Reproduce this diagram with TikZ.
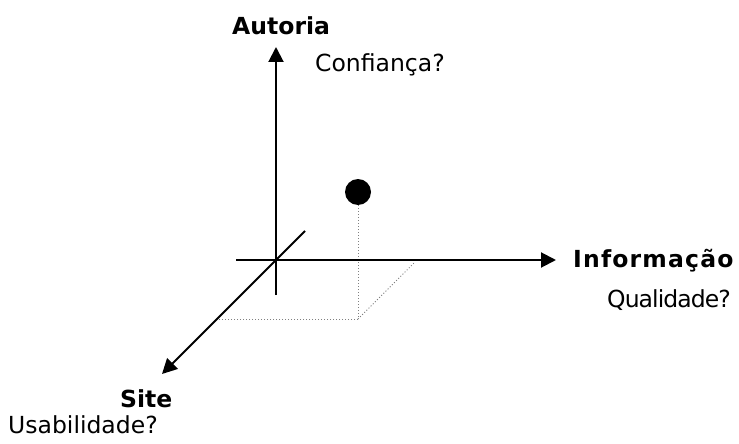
\documentclass[tikz,border=0pt]{standalone}
\usepackage{fontspec}
\setmainfont{DejaVu Sans}
\usetikzlibrary{arrows.meta}
\begin{document}
\begin{tikzpicture}[x=1pt,y=-1pt,
  axis/.style={line width=2pt,line cap=butt},
  axisarrow/.style={axis,-{Triangle[length=15pt,width=15pt]}},
  guide/.style={gray,line width=1pt,dotted},
  lbl/.style={inner sep=0pt,anchor=base west,font=\fontsize{23.5}{28}\selectfont},
  blbl/.style={lbl,font=\fontsize{23.5}{28}\selectfont\bfseries}]
\useasboundingbox (0,0) rectangle (739,444);
\coordinate (o) at (276,260);
\coordinate (vbot) at (276,295);
\coordinate (vtop) at (276,47);
\coordinate (hleft) at (236,260);
\coordinate (hright) at (556,260);
\coordinate (dtop) at (305,231);
\coordinate (dbot) at (162,374);
\coordinate (p) at (358,319);
\coordinate (pl) at (217,319);
\coordinate (pr) at (414,263);
\node[circle,fill=black,minimum size=26pt,inner sep=0pt] (ball) at (358,192) {};
\draw[guide] (ball.south) -- (p);
\draw[guide] (p) -- (pl);
\draw[guide] (p) -- (pr);
\draw[axisarrow] (vbot) -- (vtop);
\draw[axisarrow] (hleft) -- (hright);
\draw[axisarrow] (dtop) -- (dbot);
\node[blbl] (autoria) at (232,35) {Autoria};
\node[lbl] (confianca) at (315,72) {Confiança?};
\node[blbl] (informacao) at (573,267) {\addfontfeature{LetterSpace=5}Informação};
\node[lbl] (qualidade) at (607,307) {\addfontfeature{LetterSpace=-4}Qualidade?};
\node[blbl] (site) at (120,407) {Site};
\node[lbl] (usab) at (8,433) {Usabilidade?};
\end{tikzpicture}
\end{document}
